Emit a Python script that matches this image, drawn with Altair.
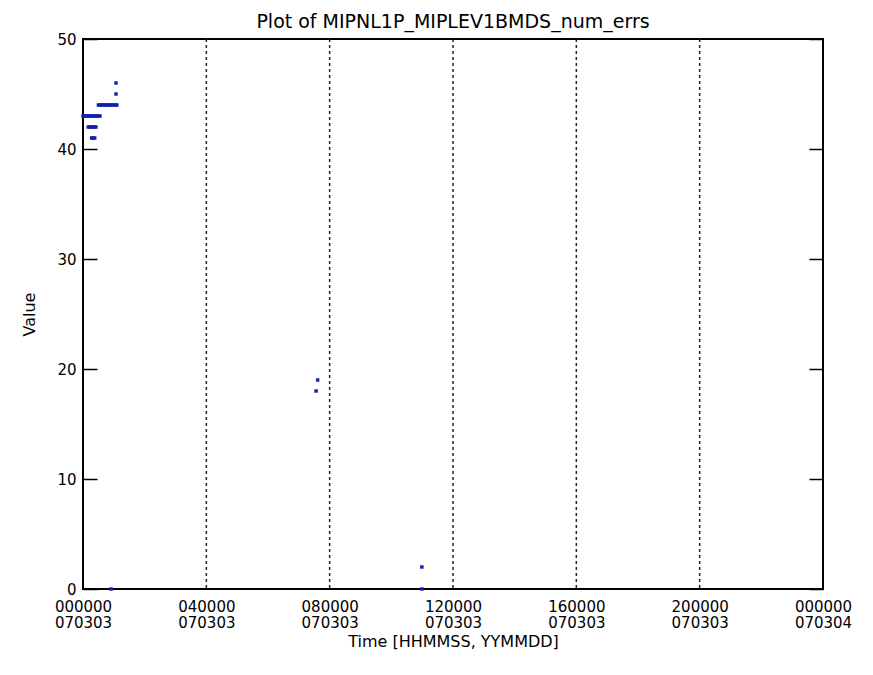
import altair as alt
import pandas as pd

TITLE = "Plot of MIPNL1P_MIPLEV1BMDS_num_errs"
X_TITLE = "Time [HHMMSS, YYMMDD]"
Y_TITLE = "Value"

# samples: time in hours since 000000 070303, and value
times_h = [0.00, 0.05, 0.10, 0.15, 0.20, 0.25, 0.30, 0.35, 0.40, 0.45, 0.50, 0.55,
           0.17, 0.22, 0.27, 0.32, 0.37, 0.42,
           0.28, 0.33, 0.38,
           0.50, 0.55, 0.60, 0.65, 0.70, 0.75, 0.80, 0.85, 0.90, 0.95, 1.00, 1.05, 1.10,
           1.07, 1.07,
           0.91,
           7.61, 7.56,
           10.99, 10.99]
values = [43, 43, 43, 43, 43, 43, 43, 43, 43, 43, 43, 43,
          42, 42, 42, 42, 42, 42,
          41, 41, 41,
          44, 44, 44, 44, 44, 44, 44, 44, 44, 44, 44, 44, 44,
          45, 46,
          0,
          19, 18,
          2, 0]

tick_hours = [0, 4, 8, 12, 16, 20, 24]
tick_time = ["000000", "040000", "080000", "120000", "160000", "200000", "000000"]
tick_date = ["070303", "070303", "070303", "070303", "070303", "070303", "070304"]
grid_hours = [4, 8, 12, 16, 20]
y_ticks = [0, 10, 20, 30, 40, 50]

W, H = 740, 550
FONT = "DejaVu Sans"

df = pd.DataFrame({"t": times_h, "v": values})
grid_df = pd.DataFrame({"h": grid_hours})


def chain(labels):
    return " : ".join(f"datum.value == {h} ? '{s}'" for h, s in zip(tick_hours, labels)) + " : ''"


xs = alt.Scale(domain=[0, 24], nice=False, zero=False)
ys = alt.Scale(domain=[0, 50], nice=False)

common_x = dict(orient="bottom", values=tick_hours, tickSize=0, domain=False, grid=False,
                labelFontSize=15, labelFont=FONT, labelColor="black",
                labelBaseline="top", labelFlush=False, labelOverlap=False)

x_axis1 = alt.Axis(labelExpr=chain(tick_time), labelPadding=10, title=None, **common_x)
x_axis2 = alt.Axis(labelExpr=chain(tick_date), labelPadding=26,
                   title=X_TITLE, titleFont=FONT, titleFontSize=16,
                   titleFontWeight="normal", titleColor="black", titlePadding=3, **common_x)

y_axis = alt.Axis(values=y_ticks, tickSize=0, domain=False, grid=False,
                  labelPadding=7, labelFontSize=15, labelFont=FONT, labelColor="black",
                  title=Y_TITLE, titleFont=FONT, titleFontSize=16,
                  titleFontWeight="normal", titleColor="black", titlePadding=19)

tick_left = alt.Axis(orient="right", offset=-W, values=y_ticks, labels=False,
                     tickSize=14, tickColor="black", tickWidth=1.5, domain=False,
                     grid=False, title=None)
tick_right = alt.Axis(orient="left", offset=-W, values=y_ticks, labels=False,
                      tickSize=14, tickColor="black", tickWidth=1.5, domain=False,
                      grid=False, title=None)

grid = alt.Chart(grid_df).mark_rule(color="#222222", strokeDash=[3, 3], strokeWidth=1.5).encode(
    x=alt.X("h:Q", scale=xs, axis=None)
)

pts = alt.Chart(df).mark_square(color="#1020b0", size=12, opacity=1).encode(
    x=alt.X("t:Q", scale=xs, axis=None),
    y=alt.Y("v:Q", scale=ys, axis=y_axis),
)

tl = alt.Chart(df).mark_point(opacity=0).encode(
    x=alt.X("t:Q", scale=xs, axis=x_axis1),
    y=alt.Y("v:Q", scale=ys, axis=tick_left),
)
tr = alt.Chart(df).mark_point(opacity=0).encode(
    x=alt.X("t:Q", scale=xs, axis=x_axis2),
    y=alt.Y("v:Q", scale=ys, axis=tick_right),
)

chart = alt.layer(grid, pts, tl, tr).resolve_axis(x="independent", y="independent").properties(
    width=W, height=H,
    title=alt.TitleParams(TITLE, font=FONT, fontSize=19, fontWeight="normal",
                          color="black", anchor="middle", offset=0),
    autosize=alt.AutoSizeParams(type="none"),
    padding={"left": 75, "top": 31, "right": 40, "bottom": 70},
).configure(background="white").configure_view(stroke="black", strokeWidth=2)

chart.save("out.html", embed_options={"renderer": "svg", "actions": False})
